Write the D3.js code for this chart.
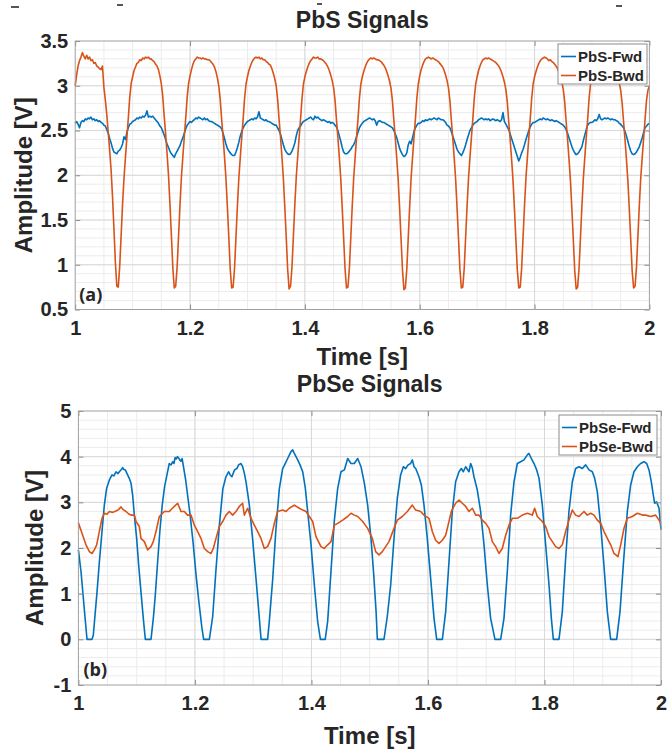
<!DOCTYPE html>
<html>
<head>
<meta charset="utf-8">
<script src="https://cdn.jsdelivr.net/npm/d3@7"></script>
<style>
  body { margin: 0; background: #fff; }
  svg text { font-family: "Liberation Sans", Arial, sans-serif; font-weight: bold; fill: #262626; }
</style>
</head>
<body>
<svg id="chart" width="667" height="750"></svg>
<script>
// PbS recording: sampled every 2.5 ms from t = 1 s (one row = 0.1 s)
var pbsStart = 1, pbsStep = 0.0025;

var pbsFwd = [
  2.58,2.60,2.57,2.53,2.59,2.61,2.60,2.63,2.62,2.64,2.63,2.65,2.62,2.63,2.61,2.62,2.60,2.61,2.59,2.58,2.56,2.55,2.51,2.47,2.41,2.36,2.30,2.26,2.25,2.24,2.27,2.28,2.31,2.35,2.43,2.40,2.48,2.53,2.57,2.58,
  2.60,2.61,2.62,2.64,2.63,2.65,2.64,2.66,2.65,2.67,2.72,2.65,2.66,2.65,2.66,2.64,2.62,2.60,2.58,2.55,2.53,2.49,2.45,2.40,2.35,2.31,2.27,2.24,2.22,2.20,2.24,2.27,2.30,2.33,2.38,2.42,2.47,2.52,2.56,2.58,
  2.60,2.59,2.61,2.62,2.64,2.63,2.65,2.64,2.63,2.62,2.64,2.62,2.63,2.61,2.60,2.60,2.59,2.58,2.57,2.56,2.55,2.54,2.52,2.47,2.41,2.35,2.30,2.27,2.25,2.23,2.22,2.22,2.26,2.31,2.37,2.44,2.49,2.53,2.56,2.58,
  2.60,2.61,2.62,2.63,2.62,2.64,2.63,2.65,2.71,2.64,2.63,2.62,2.61,2.62,2.60,2.60,2.59,2.58,2.57,2.56,2.56,2.53,2.50,2.46,2.40,2.34,2.29,2.26,2.24,2.23,2.24,2.27,2.31,2.36,2.44,2.50,2.53,2.55,2.58,2.60,
  2.61,2.62,2.63,2.64,2.65,2.63,2.62,2.66,2.64,2.65,2.63,2.62,2.61,2.62,2.61,2.60,2.59,2.60,2.58,2.59,2.58,2.56,2.54,2.50,2.44,2.38,2.31,2.26,2.24,2.24,2.25,2.27,2.29,2.32,2.34,2.38,2.43,2.48,2.53,2.56,
  2.58,2.60,2.61,2.62,2.63,2.64,2.63,2.62,2.63,2.61,2.56,2.60,2.61,2.60,2.59,2.59,2.58,2.57,2.56,2.55,2.54,2.53,2.50,2.46,2.42,2.36,2.30,2.26,2.23,2.21,2.22,2.25,2.34,2.38,2.35,2.42,2.49,2.53,2.56,2.58,
  2.58,2.59,2.61,2.60,2.62,2.61,2.62,2.63,2.62,2.63,2.64,2.63,2.62,2.64,2.63,2.62,2.62,2.61,2.59,2.56,2.55,2.53,2.49,2.44,2.39,2.34,2.29,2.26,2.24,2.22,2.25,2.29,2.34,2.40,2.45,2.50,2.53,2.56,2.58,2.59,
  2.60,2.62,2.63,2.64,2.63,2.62,2.63,2.62,2.63,2.61,2.62,2.63,2.62,2.61,2.62,2.61,2.60,2.62,2.70,2.60,2.57,2.54,2.51,2.46,2.41,2.36,2.31,2.26,2.21,2.16,2.20,2.25,2.29,2.34,2.40,2.45,2.50,2.54,2.57,2.59,
  2.59,2.60,2.61,2.62,2.63,2.62,2.64,2.63,2.62,2.63,2.62,2.61,2.62,2.61,2.60,2.61,2.60,2.59,2.58,2.57,2.56,2.54,2.51,2.47,2.42,2.37,2.32,2.28,2.25,2.23,2.24,2.26,2.29,2.32,2.39,2.45,2.51,2.56,2.58,2.59,
  2.59,2.60,2.62,2.61,2.63,2.68,2.63,2.62,2.63,2.64,2.63,2.64,2.63,2.62,2.63,2.62,2.62,2.61,2.60,2.58,2.57,2.55,2.53,2.49,2.44,2.38,2.32,2.27,2.24,2.23,2.24,2.26,2.29,2.32,2.37,2.42,2.48,2.53,2.55,2.57,
  2.58
];

var pbsBwd = [
  3.00,3.12,3.22,3.28,3.32,3.37,3.33,3.30,3.34,3.30,3.32,3.28,3.29,3.25,3.26,3.22,3.21,3.19,3.18,3.22,2.98,2.84,2.68,2.48,2.28,2.06,1.76,1.40,1.02,0.76,0.75,0.98,1.33,1.68,1.97,2.20,2.42,2.64,2.87,3.03,
  3.10,3.17,3.21,3.25,3.26,3.29,3.28,3.31,3.30,3.32,3.31,3.32,3.30,3.30,3.28,3.27,3.24,3.22,3.18,3.11,3.02,2.88,2.66,2.46,2.24,2.00,1.68,1.33,0.97,0.74,0.76,0.97,1.32,1.67,1.98,2.21,2.43,2.64,2.87,3.03,
  3.11,3.18,3.24,3.28,3.30,3.32,3.31,3.31,3.30,3.31,3.30,3.30,3.29,3.29,3.28,3.26,3.24,3.21,3.16,3.09,3.00,2.85,2.63,2.43,2.21,1.97,1.65,1.31,0.95,0.74,0.75,0.96,1.31,1.66,1.97,2.20,2.42,2.63,2.86,3.02,
  3.10,3.17,3.22,3.26,3.29,3.31,3.32,3.31,3.32,3.30,3.31,3.29,3.29,3.27,3.26,3.24,3.23,3.19,3.14,3.08,3.00,2.85,2.63,2.43,2.21,1.97,1.65,1.31,0.95,0.73,0.76,0.97,1.32,1.67,1.98,2.21,2.42,2.63,2.86,3.02,
  3.10,3.16,3.21,3.25,3.28,3.30,3.32,3.31,3.31,3.32,3.30,3.30,3.29,3.28,3.26,3.24,3.21,3.17,3.12,3.06,2.98,2.84,2.62,2.42,2.20,1.96,1.64,1.30,0.95,0.74,0.75,0.96,1.31,1.66,1.97,2.20,2.42,2.63,2.86,3.02,
  3.10,3.16,3.21,3.25,3.28,3.30,3.31,3.30,3.31,3.30,3.29,3.29,3.28,3.27,3.25,3.23,3.20,3.16,3.11,3.05,2.97,2.83,2.61,2.41,2.19,1.95,1.63,1.29,0.94,0.72,0.74,0.95,1.30,1.65,1.97,2.20,2.42,2.63,2.86,3.02,
  3.11,3.18,3.23,3.27,3.30,3.31,3.32,3.31,3.30,3.31,3.30,3.29,3.28,3.27,3.25,3.23,3.21,3.17,3.12,3.06,2.98,2.84,2.62,2.42,2.20,1.96,1.64,1.30,0.95,0.74,0.75,0.96,1.31,1.66,1.97,2.20,2.42,2.63,2.86,3.02,
  3.10,3.17,3.22,3.26,3.29,3.30,3.31,3.30,3.31,3.30,3.29,3.28,3.27,3.26,3.24,3.22,3.19,3.15,3.10,3.04,2.96,2.82,2.60,2.40,2.18,1.94,1.62,1.28,0.94,0.74,0.75,0.96,1.31,1.66,1.97,2.20,2.42,2.63,2.86,3.02,
  3.10,3.16,3.21,3.25,3.28,3.30,3.31,3.32,3.31,3.30,3.28,3.29,3.27,3.26,3.24,3.22,3.19,3.15,3.10,3.04,2.96,2.82,2.60,2.40,2.18,1.94,1.62,1.28,0.93,0.73,0.75,0.96,1.31,1.66,1.97,2.20,2.42,2.63,2.86,3.02,
  3.10,3.16,3.21,3.25,3.28,3.30,3.31,3.30,3.31,3.29,3.30,3.28,3.27,3.25,3.23,3.21,3.18,3.14,3.09,3.03,2.95,2.81,2.60,2.40,2.18,1.94,1.62,1.28,0.93,0.74,0.76,0.97,1.32,1.67,1.98,2.20,2.42,2.63,2.84,2.95,
  3.00
];

// PbSe recording: [time s, amplitude V]
var pbseFwd = [
  [1.000,1.96],[1.0045,1.48],[1.0085,0.90],[1.012,0.39],[1.0148,0],[1.0233,0],[1.0256,0.09],[1.029,0.60],[1.032,1.04],[1.036,1.70],[1.0405,2.36],[1.0445,2.94],[1.0485,3.31],[1.0532,3.49],[1.0577,3.60],[1.061,3.58],[1.0645,3.67],[1.068,3.63],[1.071,3.68],[1.073,3.71],[1.076,3.76],[1.078,3.72],[1.0805,3.71],[1.0845,3.60],[1.0875,3.52],[1.0903,3.42],[1.0931,3.16],[1.096,2.72],[1.100,2.21],[1.1034,1.63],[1.1074,1.04],[1.1114,0.46],[1.1149,0],
  [1.1246,0],[1.1286,0.46],[1.132,0.97],[1.136,1.70],[1.140,2.40],[1.144,2.95],[1.148,3.35],[1.152,3.60],[1.156,3.85],[1.159,3.82],[1.162,3.89],[1.164,3.85],[1.166,3.98],[1.168,3.95],[1.170,4.00],[1.172,3.97],[1.174,3.93],[1.176,3.90],[1.178,3.96],[1.180,3.81],[1.184,3.50],[1.188,3.10],[1.192,2.70],[1.197,2.10],[1.202,1.40],[1.207,0.80],[1.212,0.25],[1.215,0],
  [1.2248,0],[1.2305,0.50],[1.236,1.50],[1.242,2.50],[1.248,3.30],[1.253,3.55],[1.2577,3.67],[1.2606,3.60],[1.2635,3.56],[1.268,3.71],[1.272,3.74],[1.2749,3.82],[1.279,3.85],[1.2819,3.78],[1.2848,3.64],[1.2877,3.45],[1.2905,3.20],[1.2934,2.94],[1.299,2.20],[1.3048,1.34],[1.3106,0.46],[1.3135,0],
  [1.3248,0],[1.3277,0.40],[1.3334,1.30],[1.339,2.40],[1.3449,3.30],[1.3506,3.74],[1.355,3.85],[1.3592,3.96],[1.3649,4.11],[1.3678,4.15],[1.3706,4.07],[1.3764,3.93],[1.3804,3.82],[1.385,3.67],[1.3895,3.31],[1.3935,2.80],[1.3993,2.07],[1.405,1.19],[1.4107,0.39],[1.4154,0],
  [1.4237,0],[1.4279,0.40],[1.4336,1.50],[1.4393,2.60],[1.445,3.30],[1.4507,3.67],[1.4565,3.71],[1.4622,3.96],[1.4679,3.85],[1.4736,3.85],[1.4794,3.96],[1.4851,3.78],[1.4908,3.42],[1.4965,2.94],[1.5023,2.20],[1.507,1.40],[1.511,0.60],[1.5131,0],
  [1.5245,0],[1.5302,0.50],[1.536,1.19],[1.5417,2.20],[1.5474,3.09],[1.5531,3.60],[1.5577,3.78],[1.5617,3.74],[1.566,3.82],[1.5703,3.85],[1.5732,3.93],[1.5761,3.78],[1.579,3.74],[1.5846,3.56],[1.5886,3.38],[1.5932,2.94],[1.5989,2.20],[1.6046,1.34],[1.6104,0.46],[1.615,0],
  [1.6247,0],[1.6304,0.60],[1.6361,1.70],[1.6418,2.80],[1.6475,3.45],[1.6533,3.67],[1.6573,3.74],[1.6607,3.67],[1.6647,3.78],[1.6704,3.67],[1.6733,3.85],[1.6762,3.75],[1.679,3.56],[1.6847,3.27],[1.6904,2.80],[1.6962,2.07],[1.7019,1.19],[1.7076,0.46],[1.715,0],
  [1.7248,0],[1.7305,0.46],[1.7362,1.48],[1.7419,2.72],[1.7477,3.45],[1.7534,3.85],[1.7591,3.89],[1.7648,3.93],[1.7706,4.04],[1.7734,4.07],[1.7774,3.96],[1.782,3.85],[1.7866,3.71],[1.7906,3.53],[1.7963,2.94],[1.802,2.07],[1.8078,1.19],[1.8118,0.46],[1.8152,0],
  [1.8249,0],[1.8306,0.60],[1.8363,1.77],[1.842,2.80],[1.8478,3.45],[1.8535,3.74],[1.8592,3.78],[1.865,3.74],[1.8707,3.82],[1.8764,3.71],[1.8821,3.67],[1.8861,3.53],[1.8907,3.23],[1.8964,2.50],[1.902,1.63],[1.9079,0.60],[1.9136,0],
  [1.9239,0],[1.9296,0.60],[1.9353,1.63],[1.9422,2.80],[1.9479,3.38],[1.9536,3.67],[1.9594,3.78],[1.965,3.85],[1.9708,3.89],[1.9754,3.85],[1.9794,3.71],[1.9834,3.45],[1.9868,3.16],[1.989,2.98],[1.9925,3.01],[1.9966,2.87],[2.000,2.40]
];

var pbseBwd = [
  [1.000,2.55],[1.0073,2.28],[1.013,2.07],[1.0188,1.92],[1.0233,1.88],[1.0273,1.96],[1.0314,2.07],[1.0359,2.36],[1.0405,2.65],[1.0445,2.76],[1.049,2.74],[1.0531,2.80],[1.059,2.78],[1.0645,2.81],[1.069,2.84],[1.0731,2.90],[1.077,2.84],[1.0817,2.80],[1.086,2.75],[1.0903,2.72],[1.096,2.72],[1.0989,2.58],[1.1046,2.47],[1.1074,2.21],[1.1132,2.14],[1.1189,1.96],[1.1246,2.03],[1.1286,2.14],[1.1332,2.36],[1.1389,2.69],
  [1.1475,2.80],[1.1561,2.80],[1.1605,2.86],[1.1647,2.91],[1.1704,2.98],[1.1761,2.80],[1.1818,2.80],[1.1875,2.72],[1.1933,2.72],[1.199,2.50],[1.2047,2.36],[1.2104,2.21],[1.2162,1.99],[1.2219,1.92],[1.2276,1.88],[1.2316,1.99],[1.2362,2.21],[1.2419,2.47],[1.2476,2.58],[1.2533,2.72],[1.259,2.80],[1.2648,2.72],[1.2705,2.80],[1.2762,2.91],[1.2819,2.98],[1.2848,2.72],[1.2905,2.87],[1.2963,2.65],
  [1.302,2.50],[1.3077,2.36],[1.3134,2.21],[1.3191,1.99],[1.3248,2.03],[1.3306,2.21],[1.3363,2.54],[1.342,2.80],[1.3506,2.83],[1.3563,2.80],[1.362,2.87],[1.3706,2.94],[1.3792,2.87],[1.385,2.83],[1.3907,2.80],[1.3964,2.69],[1.4021,2.58],[1.4078,2.25],[1.4164,2.03],[1.4221,1.99],[1.4279,2.07],[1.4336,2.14],[1.4393,2.50],[1.445,2.54],[1.4536,2.61],[1.4622,2.69],[1.4679,2.76],[1.4736,2.72],[1.4794,2.69],[1.488,2.58],[1.4965,2.43],
  [1.5045,2.21],[1.5102,1.92],[1.5159,1.85],[1.5217,1.92],[1.5274,2.03],[1.5331,2.14],[1.5417,2.43],[1.5474,2.61],[1.556,2.69],[1.5646,2.80],[1.5732,2.94],[1.5789,2.83],[1.5875,2.80],[1.5932,2.72],[1.6018,2.65],[1.6075,2.36],[1.6132,2.17],[1.6189,2.10],[1.6247,2.17],[1.6304,2.28],[1.6361,2.58],[1.6401,2.80],[1.6475,2.98],[1.6533,3.05],[1.659,2.98],[1.6647,2.91],[1.6704,2.80],[1.6762,2.87],[1.6819,2.72],[1.6876,2.72],[1.6933,2.61],[1.6991,2.54],[1.7048,2.43],
  [1.7105,2.14],[1.7162,2.03],[1.7219,1.88],[1.7276,1.99],[1.7334,2.28],[1.7391,2.50],[1.7448,2.65],[1.7534,2.65],[1.762,2.72],[1.7706,2.76],[1.7791,2.72],[1.7831,2.87],[1.7877,2.69],[1.7963,2.58],[1.802,2.47],[1.8078,2.25],[1.8135,2.14],[1.8192,2.03],[1.8249,1.99],[1.8306,2.07],[1.8363,2.36],[1.842,2.61],[1.8478,2.83],[1.8535,2.72],[1.8592,2.69],[1.8678,2.80],[1.8735,2.72],[1.8793,2.76],[1.885,2.72],[1.8907,2.61],[1.8964,2.54],
  [1.9022,2.36],[1.9079,2.21],[1.9136,2.07],[1.9193,1.88],[1.9262,1.81],[1.9308,2.07],[1.9365,2.43],[1.9422,2.65],[1.9508,2.69],[1.9594,2.76],[1.968,2.72],[1.9737,2.72],[1.9823,2.69],[1.9908,2.72],[1.9966,2.61],[2.000,2.54]
];

var timeTicks = [1, 1.2, 1.4, 1.6, 1.8, 2];
var pbsTicks = [0.5, 1, 1.5, 2, 2.5, 3, 3.5];
var pbseTicks = [-1, 0, 1, 2, 3, 4, 5];

var blue = "#0072BD", orange = "#D95319";
var svg = d3.select("#chart");

function asPairs(values) {
  return values.map(function (v, i) { return [pbsStart + i * pbsStep, v]; });
}

function drawPanel(o) {
  var x = d3.scaleLinear().domain([1, 2]).range([o.left, o.right]);
  var y = d3.scaleLinear().domain(o.yDomain).range([o.bottom, o.top]);
  var g = svg.append("g");

  // minor grid
  g.append("g").selectAll("line")
    .data(d3.range(1.05, 1.999, 0.05))
    .enter().append("line")
    .attr("x1", d => x(d)).attr("x2", d => x(d))
    .attr("y1", o.top).attr("y2", o.bottom)
    .attr("stroke", "#ececec");
  g.append("g").selectAll("line")
    .data(d3.range(o.yDomain[0] + o.yMinor, o.yDomain[1] - 1e-6, o.yMinor))
    .enter().append("line")
    .attr("y1", d => y(d)).attr("y2", d => y(d))
    .attr("x1", o.left).attr("x2", o.right)
    .attr("stroke", "#ececec");

  // major grid
  g.append("g").selectAll("line")
    .data(timeTicks.slice(1, -1))
    .enter().append("line")
    .attr("x1", d => x(d)).attr("x2", d => x(d))
    .attr("y1", o.top).attr("y2", o.bottom)
    .attr("stroke", "#d8d8d8");
  g.append("g").selectAll("line")
    .data(o.yTicks.slice(1, -1))
    .enter().append("line")
    .attr("y1", d => y(d)).attr("y2", d => y(d))
    .attr("x1", o.left).attr("x2", o.right)
    .attr("stroke", "#d8d8d8");

  // signals
  var line = d3.line().x(d => x(d[0])).y(d => y(d[1]));
  o.series.forEach(function (s) {
    g.append("path")
      .datum(s.data)
      .attr("d", line)
      .attr("fill", "none")
      .attr("stroke", s.color)
      .attr("stroke-width", 1.6)
      .attr("stroke-linejoin", "round");
  });

  // axes, ticks pointing inward
  var fmt = d => String(d);
  var axes = [
    g.append("g").attr("transform", "translate(0," + o.bottom + ")")
      .call(d3.axisBottom(x).tickValues(timeTicks).tickFormat(fmt).tickSize(-5).tickPadding(o.xPad)),
    g.append("g").attr("transform", "translate(0," + o.top + ")")
      .call(d3.axisTop(x).tickValues(timeTicks).tickFormat("").tickSize(-5)),
    g.append("g").attr("transform", "translate(" + o.left + ",0)")
      .call(d3.axisLeft(y).tickValues(o.yTicks).tickFormat(fmt).tickSize(-5).tickPadding(7)),
    g.append("g").attr("transform", "translate(" + o.right + ",0)")
      .call(d3.axisRight(y).tickValues(o.yTicks).tickFormat("").tickSize(-5))
  ];
  axes.forEach(function (a) {
    a.select(".domain").remove();
    a.selectAll(".tick line").attr("stroke", "#8c8c8c");
    a.selectAll("text").attr("font-size", 20).attr("font-family", null).attr("fill", "#262626");
  });

  // frame
  g.append("rect")
    .attr("x", o.left).attr("y", o.top)
    .attr("width", o.right - o.left).attr("height", o.bottom - o.top)
    .attr("fill", "none").attr("stroke", "#a0a0a0");

  // titles and labels
  g.append("text").attr("x", (o.left + o.right) / 2).attr("y", o.titleY)
    .attr("text-anchor", "middle").attr("font-size", 23).text(o.title);
  g.append("text").attr("x", (o.left + o.right) / 2).attr("y", o.xLabelY)
    .attr("text-anchor", "middle").attr("font-size", 24).text("Time [s]");
  g.append("text")
    .attr("transform", "translate(" + o.yLabelX + "," + (o.top + o.bottom) / 2 + ") rotate(-90)")
    .attr("text-anchor", "middle").attr("font-size", 24).text("Amplitude [V]");
  g.append("text").attr("x", o.left + o.tagDx).attr("y", o.bottom - 9)
    .attr("font-size", 18).style("font-family", "'Open Sans', sans-serif").text(o.tag);

  // legend
  var lg = g.append("g").attr("transform", "translate(" + o.legend.x + "," + o.legend.y + ")");
  lg.append("rect").attr("width", o.legend.w).attr("height", 40)
    .attr("fill", "#fff").attr("stroke", "#8c8c8c");
  o.series.forEach(function (s, i) {
    var cy = 12.5 + i * 19;
    lg.append("line").attr("x1", 3).attr("x2", 18).attr("y1", cy).attr("y2", cy)
      .attr("stroke", s.color).attr("stroke-width", 1.6);
    lg.append("text").attr("x", 20).attr("y", cy + 5.5).attr("font-size", 15).text(s.name);
  });
}

drawPanel({
  left: 75.2, right: 649.4, top: 41, bottom: 309.5,
  yDomain: [0.5, 3.5], yTicks: pbsTicks, yMinor: 0.1,
  title: "PbS Signals", titleY: 28, xLabelY: 365, xPad: 11, yLabelX: 32,
  tag: "(a)", tagDx: 4,
  legend: { x: 558, y: 44, w: 89 },
  series: [
    { name: "PbS-Fwd", color: blue, data: asPairs(pbsFwd) },
    { name: "PbS-Bwd", color: orange, data: asPairs(pbsBwd) }
  ]
});

drawPanel({
  left: 78.4, right: 661, top: 411, bottom: 685,
  yDomain: [-1, 5], yTicks: pbseTicks, yMinor: 0.2,
  title: "PbSe Signals", titleY: 392, xLabelY: 744, xPad: 11, yLabelX: 43,
  tag: "(b)", tagDx: 5,
  legend: { x: 559, y: 415, w: 98 },
  series: [
    { name: "PbSe-Fwd", color: blue, data: pbseFwd },
    { name: "PbSe-Bwd", color: orange, data: pbseBwd }
  ]
});

// bits of the figure above that were cut off at the top edge
var cropMarks = [[11, 19, 7], [117, 123, 5], [317, 322, 4], [616, 622, 6]];
svg.selectAll(".crop").data(cropMarks).enter().append("line")
  .attr("x1", d => d[0]).attr("x2", d => d[1]).attr("y1", d => d[2]).attr("y2", d => d[2])
  .attr("stroke", "#555").attr("stroke-width", 2);
</script>
</body>
</html>
